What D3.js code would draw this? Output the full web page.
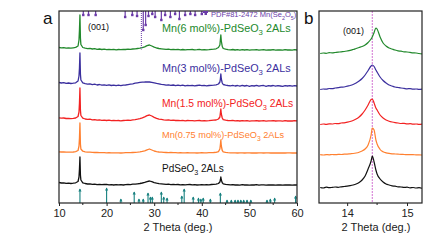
<!DOCTYPE html>
<html><head><meta charset="utf-8">
<script src="https://cdn.jsdelivr.net/npm/d3@7"></script>
<style>body{margin:0;background:#fff}svg{display:block;font-family:"Liberation Sans",Arial,sans-serif}</style>
</head><body><svg id="c" width="439" height="241"></svg>
<script>
// ---------- DATA ----------
const seriesNames = ["PdSeO3 2ALs","Mn(0.75 mol%)-PdSeO3 2ALs","Mn(1.5 mol%)-PdSeO3 2ALs","Mn(3 mol%)-PdSeO3 2ALs","Mn(6 mol%)-PdSeO3 2ALs"];
const seriesColors = ["#111111","#ff8030","#f22222","#3b2f9e","#22892c"];
// panel a: 2theta grid (deg)
const thetaA = [10,10.5,11,11.5,12,12.5,13,13.5,14,14.2,14.3,14.4,14.5,14.6,15,15.5,16,16.5,17,17.5,18,18.5,19,19.5,20,20.5,21,21.5,22,22.5,23,23.5,24,24.5,25,25.5,26,26.5,27,27.5,28,28.5,29,29.5,30,30.5,31,31.5,32,32.5,33,33.5,34,34.5,35,35.5,36,36.5,37,37.5,38,38.5,39,39.5,40,40.5,41,41.5,42,42.5,43,43.5,43.8,43.9,44,44.1,44.3,44.5,45,45.5,46,46.5,47,47.5,48,48.5,49,49.5,50,50.5,51,51.5,52,52.5,53,53.5,54,54.5,55,55.5,56,56.5,57,57.5,58,58.5,59,59.5,60];
const intensityA_pure = [2.5,2,2.2,1.6,1.8,1.5,1.8,2.2,3.5,8, 16,28,10,5,2.2,1.5,1.0,1.2,0.6,0.9, 0.4,0.7,0.3,0.5,0.6,0.2,0.4,0,0.3,0.1, 0.3,0,0.4,0.5,0.4,0.8,0.9,1.2,1.5,2, 2.6,3.4,4,3.3,2.4,1.8,1.3,1.1,0.9,0.6, 0.8,0.4,0.6,0.3,0.5,0.2,0.4,0.1,0.3,0.5, 0.2,0.3,0,0.2,0.4,0.1,0.3,0.2,0.5,0.6, 0.8,1.5,3,5,8,5,2.2,1.2,0.6,0.4, 0.2,0.4,0,0.2,-0.1,0.3,0,0.2,-0.2,0.1, 0,0.3,-0.1,0.1,0.2,-0.2,0.1,0,0.2,-0.1, 0.1,0,-0.2,0.2,0,0.1,-0.1,0.2,0];
const intensityA_075 = [1.2,1,1.1,0.8,0.9,0.8,1.0,1.4,2.5,7, 15,30,9,4,1.8,1.2,0.9,0.8,0.6,0.5, 0.5,0.3,0.4,0.3,0.2,0.3,0.1,0.2,0.1,0.2, 0,0.2,0.3,0.4,0.3,0.5,0.7,0.9,1.2,1.6, 2.2,3.2,4,3,2,1.4,1,0.8,0.6,0.5, 0.4,0.5,0.3,0.4,0.2,0.3,0.2,0.1,0.3,0.2, 0.1,0.2,0,0.2,0.3,0.1,0.2,0.3,0.4,0.5, 0.7,1.4,4,8,13,7,2.5,1.2,0.6,0.3, 0.2,0.1,0.2,0,0.1,0.2,0,0.1,0.2,0, 0.1,0,0.2,0.1,0,0.1,0.2,0,0.1,0, 0.2,0,0.1,0,0.2,0.1,0,0.1,0];
const intensityA_15 = [3.2,2.8,3,2.5,2.7,2.3,2.6,3,4.5,9, 18,33,11,5.5,2.8,2,1.6,1.8,1.2,1.4, 0.9,1.1,0.7,0.9,0.5,0.8,0.4,0.6,0.3,0.5, 0.2,0.5,0.6,0.8,0.7,1.1,1.4,1.8,2.4,3.2, 4.2,5.4,6,5,3.6,2.6,1.9,1.6,1.2,0.9, 1.1,0.6,0.8,0.5,0.7,0.3,0.6,0.2,0.5,0.3, 0.4,0.1,0.3,0.5,0.2,0.4,0.1,0.3,0.6,0.8, 1,2,4,8,12,7,3,1.4,0.8,0.5, 0.3,0.6,0.1,0.4,0,0.3,0.1,0.4,-0.1,0.2, 0.1,0.4,0,0.2,0.3,-0.1,0.2,0.1,0.3,0, 0.2,0.1,-0.1,0.3,0,0.2,0,0.3,0.1];
const intensityA_3 = [3.5,3,3.4,2.6,3,2.5,2.8,3.2,5,10, 18,33,12,6,3.2,2.4,1.8,2.2,1.4,1.8, 1.0,1.5,0.8,1.2,0.6,1.1,0.5,0.9,0.3,0.8, 0.4,0.9,1,1.4,1.8,2.2,2.8,3.2,3.6,3.9, 4,4.2,4,3.6,3.2,2.6,2.2,1.6,1.4,0.9, 1.2,0.6,1,0.4,0.9,0.3,0.8,0.2,0.7,0.4, 0.6,0.1,0.5,0.8,0.3,0.6,0.2,0.5,0.7,0.9, 1.2,2,4,7,12,7,3,1.5,0.9,0.5, 0.2,0.7,0,0.5,-0.2,0.6,0,0.5,-0.3,0.4, 0,0.6,-0.2,0.3,0.5,-0.3,0.4,0,0.5,-0.2, 0.3,0,-0.3,0.4,0,0.3,-0.2,0.4,0];
const intensityA_6 = [2.5,2.2,2.4,1.9,2.1,1.8,2.2,2.6,4,10, 20,35,12,5.5,2.5,1.8,1.4,1.6,1.0,1.3, 0.7,1.0,0.5,0.8,0.4,0.7,0.3,0.6,0.2,0.5, 0.3,0.6,0.5,0.8,0.7,1,1.2,1.5,1.8,2.4, 3.2,4.4,5,4,2.8,2,1.5,1.2,0.9,0.6, 0.8,0.4,0.7,0.3,0.6,0.2,0.5,0.1,0.4,0.3, 0.5,0.1,0.3,0.6,0.2,0.4,0.1,0.3,0.6,0.8, 1.2,2.5,5,10,15,9,3.5,1.5,0.8,0.4, 0.2,0.5,0,0.3,-0.1,0.4,0,0.3,-0.2,0.2, 0.1,0.4,-0.1,0.2,0.3,-0.2,0.2,0,0.3,-0.1, 0.2,0,-0.2,0.3,0,0.2,-0.1,0.3,0];
const offsetsA = [18,50,82,117,153];
// panel b: zoom on (001)
const thetaB = [13.55,13.60,13.65,13.70,13.75,13.80,13.85,13.90,13.95,14.00,14.05,14.10,14.15,14.20,14.25,14.30,14.35,14.40,14.42,14.45,14.48,14.50,14.55,14.60,14.65,14.70,14.75,14.80,14.85,14.90,14.95,15.00,15.05,15.10,15.15,15.20,15.25];
const intensityB_pure = [0.5,0,0.8,0.3,0.6,1.0,0.7,1.2,1.5,1.8, 2.3,3.0,4.0,5.5,8,12,19,27, 32,26,18,14, 9,6,4,3,2.2,1.8,1.2,1.0,0.6,0.8,0.2,0.5,0,0.3,-0.3];
const intensityB_075 = [0.3,0,0.4,0.2,0.5,0.3,0.6,0.5,0.8,0.9, 1.2,1.5,2,2.8,4,6,10,20, 27,25,15,11, 5.5,3.2,2.2,1.6,1.2,1,0.8,0.6,0.5,0.4,0.3,0.4,0.1,0.2,0];
const intensityB_15 = [0.5,1,0.6,1.2,1,1.5,1.3,2,2.2,2.8, 3.5,4.5,6,8,11,15,20,25.5, 26,22,17,15, 10,7,5,3.8,3,2.4,2,1.5,1.6,1.1,1.3,0.8,1,0.6,0.8];
const intensityB_3 = [0.5,1,0.8,1.5,1.3,2,2.3,2.8,3,3.8, 4.5,5.5,7,9,11.5,15,19.5,24, 25,23.5,20,18, 13,9.5,7,5,4,3,2.5,2,1.6,1.2,1.4,0.8,1,0.6,0.8];
const intensityB_6 = [0.5,1,0.7,1.3,1.2,1.5,1.8,2.2,2.5,3, 3.6,4.5,5.5,6.5,7.5,9,11.5,15, 17,21.5,26,25, 17,11,8,6,5,4,3.2,2.8,2.2,2,1.6,1.2,1,0.5,0.2];
const offsetsB = [15,48,78,113,149];
const peak001 = 14.42;
// reference patterns
const pdfMnPos = [15.1,16.2,17.7,23.9,25.4,26.4,27.7,28.2,28.8,29.6,30.2,31.5,32.3,33.4,34.4,35.3,36.5,37.6,38.6,40.0];
const pdfMnInt = [4,4,4,6,4,5,19,14,5,3,6,9,4,6,3,8,4,3,4,3];
const mnDotted = 27.3;
const pdSeO3Pos = [14.4,20.0,23.0,25.8,26.8,27.7,28.7,29.2,29.6,31.5,32.0,32.7,35.8,36.3,38.2,39.3,39.8,40.3,41.8,43.9,45.3,46.2,47.0,47.6,48.2,48.8,49.5,50.3,53.7,54.4,55.3,59.7];
const pdSeO3Int = [14,15,4,11,4,4,10,6,6,11,6,5,7,14,6,5,4,5,4,10,3,3,3,3,3,3,3,3,3,4,5,7];
const ticksA = [10,20,30,40,50,60];
const minorA = [15,25,35,45,55];
const ticksB = [14,15];
const minorB = [14.5];

// ---------- DRAW ----------
const svg = d3.select("#c");
const xA = d3.scaleLinear().domain([10,60]).range([59,297]);
const xB = d3.scaleLinear().domain([13.53,15.25]).range([319,422]);
const y = d3.scaleLinear().domain([0,192]).range([203,11]);
const seriesA = [intensityA_pure,intensityA_075,intensityA_15,intensityA_3,intensityA_6];
const seriesB = [intensityB_pure,intensityB_075,intensityB_15,intensityB_3,intensityB_6];

function sub(t, parts){ // parts: [text, isSub]
  parts.forEach(([s,isSub])=>{
    const ts=t.append("tspan").text(s);
    if(isSub){ts.attr("dy",2.5).attr("font-size","0.72em");}
    else if(t.node().childNodes.length>1){ts.attr("dy",-2.5);}
  });
}

// panel a clip
svg.append("clipPath").attr("id","ca").append("rect").attr("x",59).attr("y",11).attr("width",238).attr("height",192);
svg.append("clipPath").attr("id","cb").append("rect").attr("x",319).attr("y",11).attr("width",103).attr("height",192);

const gA = svg.append("g").attr("clip-path","url(#ca)");
seriesA.forEach((s,i)=>{
  const pts = thetaA.map((t,j)=>[t,s[j]+offsetsA[i]]).filter(p=>!isNaN(p[1]));
  gA.append("path").attr("d",d3.line().x(d=>xA(d[0])).y(d=>y(d[1]))(pts))
    .attr("fill","none").attr("stroke",seriesColors[i]).attr("stroke-width",1.3).attr("stroke-linejoin","round");
});
// Mn(Se2O5) reference sticks
const purple="#6a3aa8";
pdfMnPos.forEach((p,i)=>{
  const x=xA(p), y0=y(192), y1=y(192)+pdfMnInt[i];
  gA.append("line").attr("x1",x).attr("x2",x).attr("y1",y0).attr("y2",y1).attr("stroke",purple).attr("stroke-width",1.2);
  gA.append("rect").attr("x",x-1.2).attr("y",y1-1.2).attr("width",2.4).attr("height",2.4).attr("fill",purple);
});
gA.append("line").attr("x1",xA(mnDotted)).attr("x2",xA(mnDotted)).attr("y1",y(192)).attr("y2",y(offsetsA[4]+0.5))
  .attr("stroke",purple).attr("stroke-width",1).attr("stroke-dasharray","1,1");
// PdSeO3 arrows
const teal="#17807f";
pdSeO3Pos.forEach((p,i)=>{
  const x=xA(p), y0=y(0), y1=y(pdSeO3Int[i]);
  gA.append("line").attr("x1",x).attr("x2",x).attr("y1",y0).attr("y2",y1).attr("stroke",teal).attr("stroke-width",1.1);
  gA.append("path").attr("d",`M${x-1.6},${y1+2.6}L${x},${y1-0.4}L${x+1.6},${y1+2.6}Z`).attr("fill",teal);
});

// panel b
const gB = svg.append("g").attr("clip-path","url(#cb)");
gB.append("line").attr("x1",xB(peak001)).attr("x2",xB(peak001)).attr("y1",y(192)).attr("y2",y(0))
  .attr("stroke","#d67fd6").attr("stroke-width",1.1).attr("stroke-dasharray","2,1");
seriesB.forEach((s,i)=>{
  const pts = thetaB.map((t,j)=>[t,s[j]+offsetsB[i]]);
  gB.append("path").attr("d",d3.line().curve(d3.curveMonotoneX).x(d=>xB(d[0])).y(d=>y(d[1]))(pts))
    .attr("fill","none").attr("stroke",seriesColors[i]).attr("stroke-width",1.2);
});

// frames
svg.append("rect").attr("x",59).attr("y",11).attr("width",238).attr("height",192).attr("fill","none").attr("stroke","#222").attr("stroke-width",1.2);
svg.append("rect").attr("x",319).attr("y",11).attr("width",103).attr("height",192).attr("fill","none").attr("stroke","#222").attr("stroke-width",1.2);

// axes
function axis(scale, major, minor){
  const g = svg.append("g").attr("transform","translate(0,203)");
  g.call(d3.axisBottom(scale).tickValues(major).tickSize(3).tickPadding(3).tickFormat(d3.format("d")));
  g.call(gg=>gg.select(".domain").remove());
  g.selectAll("text").attr("font-size",11).attr("font-family","Liberation Sans, Arial, sans-serif").attr("fill","#222");
  g.selectAll("line").attr("stroke","#222");
  minor.forEach(m=>g.append("line").attr("x1",scale(m)).attr("x2",scale(m)).attr("y1",0).attr("y2",2).attr("stroke","#222"));
}
axis(xA, ticksA, minorA);
axis(xB, ticksB, minorB);
svg.append("text").attr("x",178).attr("y",231).attr("text-anchor","middle").attr("font-size",11).attr("fill","#222").text("2 Theta (deg.)");
svg.append("text").attr("x",376).attr("y",231).attr("text-anchor","middle").attr("font-size",11).attr("fill","#222").text("2 Theta (deg.)");

// panel letters
svg.append("text").attr("x",43).attr("y",24).attr("font-size",17).attr("fill","#111").text("a");
svg.append("text").attr("x",304).attr("y",24).attr("font-size",17).attr("fill","#111").text("b");

// annotations
svg.append("text").attr("x",88).attr("y",30).attr("font-size",9).attr("fill","#111").text("(001)");
svg.append("text").attr("x",343).attr("y",34).attr("font-size",9).attr("fill","#111").text("(001)");

// series labels
const labelY = [172,138,107,72,32];
const labelSize = [10,9.2,10.3,10.8,10.8];
seriesNames.forEach((n,i)=>{
  const t = svg.append("text").attr("x",162).attr("y",labelY[i]).attr("font-size",labelSize[i]).attr("fill",seriesColors[i]);
  const k = n.indexOf("PdSeO3");
  sub(t, [[n.slice(0,k)+"PdSeO",false],["3",true],[" 2ALs",false]]);
});

// PDF legend
svg.append("line").attr("x1",203).attr("x2",208).attr("y1",12).attr("y2",12).attr("stroke",purple).attr("stroke-width",2);
svg.append("rect").attr("x",204.5).attr("y",11).attr("width",2.5).attr("height",4).attr("fill",purple);
const lt = svg.append("text").attr("x",211).attr("y",17).attr("font-size",7.5).attr("fill",purple);
sub(lt, [["PDF#81-2472  Mn(Se",false],["2",true],["O",false],["5",true],[")",false]]);
</script></body></html>
